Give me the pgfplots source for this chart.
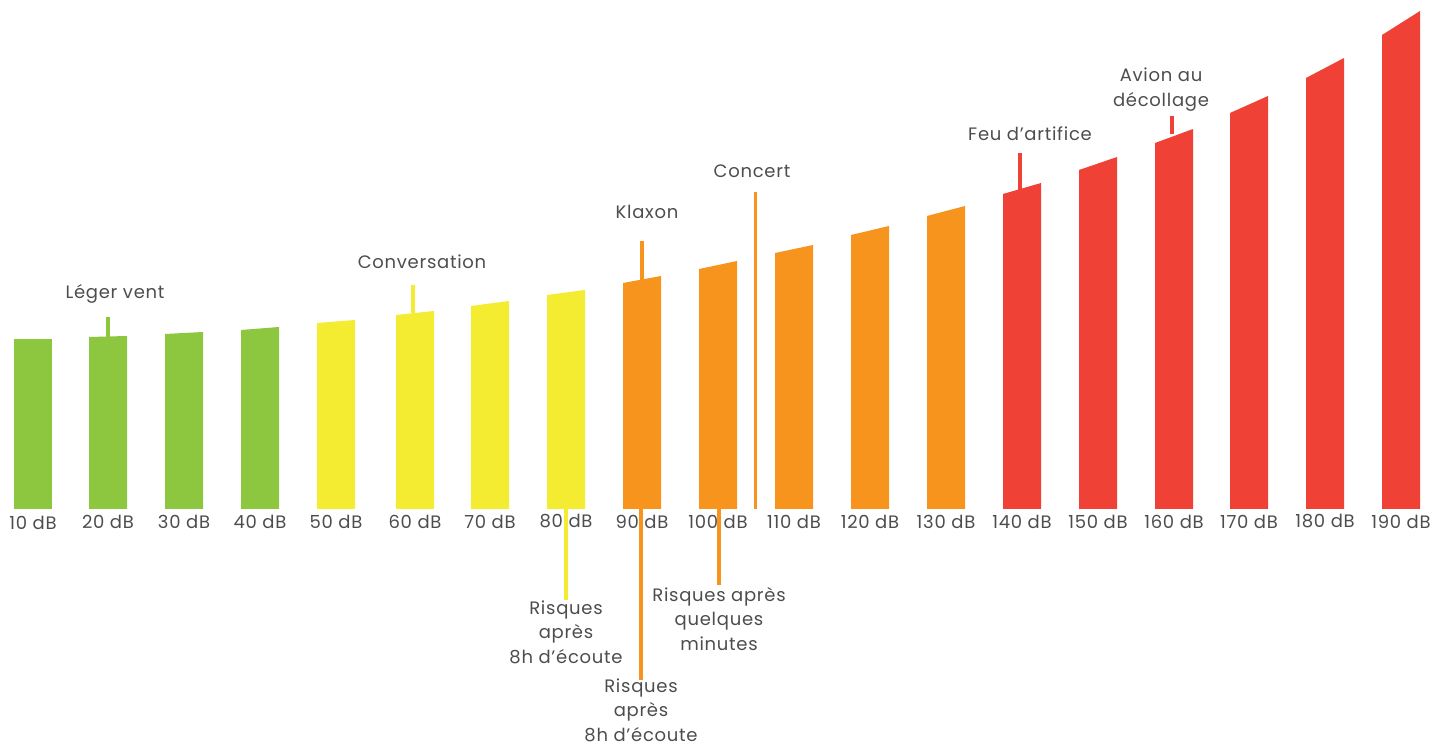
\documentclass[border=0pt]{standalone}
\usepackage{pgfplots}
\pgfplotsset{compat=1.18}
\usepackage{fontspec}
\setmainfont{Poppins}[LetterSpace=4]
\definecolor{cgreen}{HTML}{8DC63F}
\definecolor{cyellow}{HTML}{F3EC31}
\definecolor{corange}{HTML}{F7941D}
\definecolor{cred}{HTML}{EF4136}
\definecolor{ctext}{HTML}{4D4D4D}
\tikzset{lab/.style={font=\fontsize{18}{24.5}\selectfont, text=ctext, align=center, inner sep=0pt}}
\begin{document}
\begin{tikzpicture}
\begin{axis}[
  scale only axis, width=1445pt, height=746pt,
  xmin=0, xmax=1445, ymin=0, ymax=746,
  axis lines=none, ticks=none, clip=false,
]
\addplot[draw=none] coordinates {(0,0) (1445,746)};
% bars: (left,0) (left,yl) (right,yr) (right,0)
\addplot[fill=cgreen, draw=none] coordinates {(14,237) (14,407) (52,407) (52,237)} -- cycle;
\addplot[fill=cgreen, draw=none] coordinates {(89,237) (89,409) (127,410) (127,237)} -- cycle;
\addplot[fill=cgreen, draw=none] coordinates {(165,237) (165,412) (203,414) (203,237)} -- cycle;
\addplot[fill=cgreen, draw=none] coordinates {(241,237) (241,416) (279,419) (279,237)} -- cycle;
\addplot[fill=cyellow, draw=none] coordinates {(317,237) (317,423) (355,426) (355,237)} -- cycle;
\addplot[fill=cyellow, draw=none] coordinates {(396,237) (396,431) (434,435) (434,237)} -- cycle;
\addplot[fill=cyellow, draw=none] coordinates {(471,237) (471,440) (509,445) (509,237)} -- cycle;
\addplot[fill=cyellow, draw=none] coordinates {(547,237) (547,451) (585,456) (585,237)} -- cycle;
\addplot[fill=corange, draw=none] coordinates {(623,237) (623,463) (661,470) (661,237)} -- cycle;
\addplot[fill=corange, draw=none] coordinates {(699,237) (699,477) (737,485) (737,237)} -- cycle;
\addplot[fill=corange, draw=none] coordinates {(775,237) (775,493) (813,501) (813,237)} -- cycle;
\addplot[fill=corange, draw=none] coordinates {(851,237) (851,511) (889,520) (889,237)} -- cycle;
\addplot[fill=corange, draw=none] coordinates {(927,237) (927,530) (965,540) (965,237)} -- cycle;
\addplot[fill=cred, draw=none] coordinates {(1003,237) (1003,552) (1041,563) (1041,237)} -- cycle;
\addplot[fill=cred, draw=none] coordinates {(1079,237) (1079,576) (1117,589) (1117,237)} -- cycle;
\addplot[fill=cred, draw=none] coordinates {(1155,237) (1155,603) (1193,617) (1193,237)} -- cycle;
\addplot[fill=cred, draw=none] coordinates {(1230,237) (1230,633) (1268,650) (1268,237)} -- cycle;
\addplot[fill=cred, draw=none] coordinates {(1306,237) (1306,668) (1344,688) (1344,237)} -- cycle;
\addplot[fill=cred, draw=none] coordinates {(1382,237) (1382,711) (1420,735) (1420,237)} -- cycle;
% tick labels
\node[lab] at (axis cs:33,223) {10 dB};
\node[lab] at (axis cs:108,224.5) {20 dB};
\node[lab] at (axis cs:184,224.5) {30 dB};
\node[lab] at (axis cs:260,224.5) {40 dB};
\node[lab] at (axis cs:336,224.5) {50 dB};
\node[lab] at (axis cs:415,224.5) {60 dB};
\node[lab] at (axis cs:490,224.5) {70 dB};
\node[lab] at (axis cs:566,224.5) {80 dB};
\node[lab] at (axis cs:642,224.5) {90 dB};
\node[lab] at (axis cs:718,224.5) {100 dB};
\node[lab] at (axis cs:794,224.5) {110 dB};
\node[lab] at (axis cs:870,224.5) {120 dB};
\node[lab] at (axis cs:946,224.5) {130 dB};
\node[lab] at (axis cs:1022,224.5) {140 dB};
\node[lab] at (axis cs:1098,224.5) {150 dB};
\node[lab] at (axis cs:1174,224.5) {160 dB};
\node[lab] at (axis cs:1249,224.5) {170 dB};
\node[lab] at (axis cs:1325,224.5) {180 dB};
\node[lab] at (axis cs:1401,224.5) {190 dB};
% annotation lines
\addplot[cgreen, line width=3.5pt] coordinates {(108,429) (108,409)};
\addplot[cyellow, line width=3.5pt] coordinates {(413,461) (413,433)};
\addplot[corange, line width=3.5pt] coordinates {(642,505) (642,466)};
\addplot[corange, line width=3.5pt] coordinates {(755.5,554) (755.5,237)};
\addplot[cred, line width=3.5pt] coordinates {(1020,593) (1020,555)};
\addplot[cred, line width=3.5pt] coordinates {(1172,630) (1172,612)};
\addplot[cyellow, line width=3.5pt] coordinates {(566,237) (566,146)};
\addplot[corange, line width=3.5pt] coordinates {(641,237) (641,66)};
\addplot[corange, line width=3.5pt] coordinates {(719,237) (719,161)};
% annotation texts
\node[lab] at (axis cs:115,452) {Léger vent};
\node[lab] at (axis cs:422,484) {Conversation};
\node[lab] at (axis cs:647,534) {Klaxon};
\node[lab] at (axis cs:752,575) {Concert};
\node[lab] at (axis cs:1030,612) {Feu d’artifice};
\node[lab] at (axis cs:1161,656.5) {Avion au\\décollage};
\node[lab] at (axis cs:566,114) {Risques\\après\\8h d’écoute};
\node[lab] at (axis cs:641,36) {Risques\\après\\8h d’écoute};
\node[lab] at (axis cs:719,127) {Risques après\\quelques\\minutes};
\end{axis}
\end{tikzpicture}
\end{document}
